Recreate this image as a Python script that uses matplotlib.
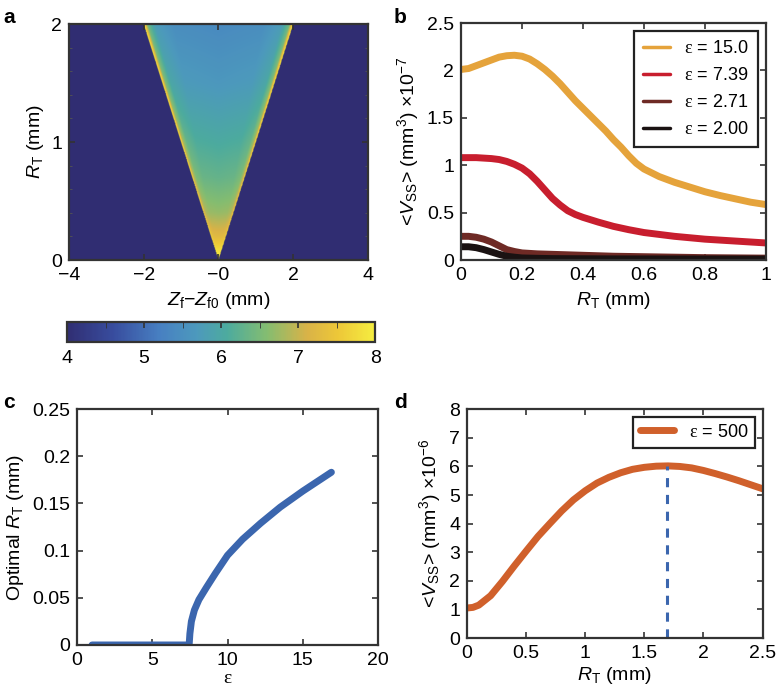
import numpy as np
import matplotlib
matplotlib.use("Agg")
import matplotlib.pyplot as plt
from matplotlib.colors import LinearSegmentedColormap

plt.rcParams['font.family'] = ['Liberation Sans', 'DejaVu Sans']
plt.rcParams['mathtext.fontset'] = 'custom'
plt.rcParams['mathtext.rm'] = 'Liberation Sans'
plt.rcParams['mathtext.it'] = 'Liberation Sans:italic'
plt.rcParams['mathtext.sf'] = 'Liberation Serif'
plt.rcParams['font.size'] = 14
plt.rcParams['axes.edgecolor'] = '#333333'
plt.rcParams['axes.linewidth'] = 1.6
plt.rcParams['xtick.direction'] = 'in'
plt.rcParams['ytick.direction'] = 'in'
plt.rcParams['xtick.top'] = True
plt.rcParams['ytick.right'] = True
plt.rcParams['xtick.major.size'] = 4
plt.rcParams['ytick.major.size'] = 4
plt.rcParams['xtick.major.width'] = 1.2
plt.rcParams['ytick.major.width'] = 1.2
plt.rcParams['lines.solid_joinstyle'] = 'round'
plt.rcParams['lines.solid_capstyle'] = 'round'

# ---- panel a: cone map ----
cone_rt = [0.0, 0.08, 0.2, 0.4, 0.7, 1.0, 1.5, 2.0]
cone_center = [8.0, 7.8, 7.25, 6.7, 6.3, 6.05, 5.65, 5.4]
edge_u = [0.0, 0.6, 0.85, 0.95, 1.0]
edge_w = [0.0, 0.03, 0.14, 0.4, 1.0]
outside_val = 4.0

# ---- panel b ----
rt_15 = [0, 0.025, 0.05, 0.075, 0.1, 0.125, 0.15, 0.175, 0.2, 0.225, 0.25, 0.275, 0.3, 0.325, 0.35,
         0.375, 0.4, 0.425, 0.45, 0.475, 0.5, 0.525, 0.55, 0.575, 0.6, 0.65, 0.7, 0.75, 0.8, 0.85, 0.9, 0.95, 1.0]
v_eps15 = [2.01, 2.02, 2.05, 2.08, 2.11, 2.14, 2.155, 2.16, 2.15, 2.12, 2.07, 2.01, 1.94, 1.86, 1.77,
           1.68, 1.6, 1.52, 1.44, 1.36, 1.27, 1.19, 1.1, 1.02, 0.96, 0.88, 0.82, 0.77, 0.72, 0.68, 0.645, 0.61, 0.585]
rt_739 = [0, 0.05, 0.1, 0.125, 0.15, 0.175, 0.2, 0.225, 0.25, 0.275, 0.3, 0.325, 0.35, 0.375, 0.4,
          0.45, 0.5, 0.55, 0.6, 0.7, 0.8, 0.9, 1.0]
v_eps739 = [1.08, 1.08, 1.07, 1.06, 1.04, 1.01, 0.97, 0.91, 0.83, 0.74, 0.65, 0.58, 0.52, 0.48, 0.45,
            0.4, 0.355, 0.32, 0.29, 0.25, 0.22, 0.2, 0.18]
rt_271 = [0, 0.025, 0.05, 0.075, 0.1, 0.125, 0.15, 0.175, 0.2, 0.25, 0.3, 0.4, 0.5, 0.6, 0.8, 1.0]
v_eps271 = [0.25, 0.25, 0.24, 0.22, 0.19, 0.15, 0.11, 0.09, 0.075, 0.065, 0.06, 0.05, 0.04, 0.035, 0.025, 0.02]
rt_200 = [0, 0.025, 0.05, 0.075, 0.1, 0.125, 0.15, 0.175, 0.2, 0.25, 0.3, 0.5, 1.0]
v_eps200 = [0.14, 0.14, 0.13, 0.11, 0.085, 0.06, 0.04, 0.03, 0.022, 0.018, 0.015, 0.012, 0.01]
labels_b = ['15.0', '7.39', '2.71', '2.00']
colors_b = ['#E5A33B', '#C81E2E', '#6E2A25', '#1A1212']

# ---- panel c ----
eps_c = [1, 3, 5, 7, 7.45, 7.5, 7.6, 7.8, 8.1, 8.6, 9.2, 10.0, 11.0, 12.2, 13.5, 15.0, 16.9]
opt_rt = [0, 0, 0, 0, 0, 0.012, 0.025, 0.037, 0.048, 0.061, 0.076, 0.095, 0.112, 0.129, 0.146, 0.163, 0.183]

# ---- panel d ----
rt_d = [0, 0.05, 0.1, 0.2, 0.3, 0.4, 0.5, 0.6, 0.7, 0.8, 0.9, 1.0, 1.1, 1.2, 1.3, 1.4, 1.5, 1.6, 1.7,
        1.8, 1.9, 2.0, 2.1, 2.2, 2.3, 2.4, 2.5]
v_d = [1.05, 1.07, 1.15, 1.48, 1.98, 2.52, 3.04, 3.55, 4.0, 4.44, 4.83, 5.15, 5.42, 5.62, 5.78, 5.9,
       5.97, 6.01, 6.02, 6.0, 5.95, 5.86, 5.75, 5.63, 5.5, 5.36, 5.22]
peak_rt = 1.69

parula_like = LinearSegmentedColormap.from_list('parula_like', [
    (0.00, (0.19, 0.18, 0.45)),
    (0.15, (0.22, 0.30, 0.62)),
    (0.30, (0.28, 0.50, 0.76)),
    (0.42, (0.30, 0.60, 0.74)),
    (0.52, (0.30, 0.67, 0.62)),
    (0.65, (0.52, 0.74, 0.44)),
    (0.78, (0.85, 0.70, 0.28)),
    (0.88, (0.93, 0.78, 0.22)),
    (1.00, (0.96, 0.93, 0.25)),
])

fig = plt.figure(figsize=(7.8, 6.91), dpi=100)

# panel a
ax_a = fig.add_axes([0.0885, 0.6237, 0.383, 0.3415])
xg = np.linspace(-4, 4, 801)
rg = np.linspace(0, 2, 401)
X, R = np.meshgrid(xg, rg)
center = np.interp(R, cone_rt, cone_center)
u = np.abs(X) / np.maximum(R, 1e-9)
w = np.interp(np.minimum(u, 1.0), edge_u, edge_w)
field = np.where(u <= 1.0, center + (8.0 - center) * w, outside_val)
im = ax_a.imshow(field, extent=[-4, 4, 0, 2], origin='lower', aspect='auto',
                 cmap=parula_like, vmin=4, vmax=8, interpolation='bilinear')
ax_a.set_xticks([-4, -2, 0, 2, 4])
ax_a.set_xticklabels(['\u22124', '\u22122', '\u22120', '2', '4'])
ax_a.set_yticks([0, 1, 2])
ax_a.set_yticks(np.arange(0, 2.01, 0.2), minor=True)
ax_a.tick_params(which='minor', length=2.5, color='#555555')
ax_a.set_xlabel('$Z_{\\rm f}$\u2212$Z_{\\rm f0}$ (mm)')
ax_a.set_ylabel(r'$R_{\rm T}$ (mm)')

cax = fig.add_axes([0.0859, 0.505, 0.395, 0.0289])
cb = fig.colorbar(im, cax=cax, orientation='horizontal')
cb.set_ticks([4, 5, 6, 7, 8])
cb.ax.set_xticks(np.arange(4, 8.01, 0.5), minor=True)
cb.ax.tick_params(which='both', direction='in', top=True, bottom=False, labelbottom=True,
                  length=4, color='#333333', labelsize=14, pad=6)
cb.outline.set_linewidth(1.6)
cb.outline.set_edgecolor('#333333')

# panel b
ax_b = fig.add_axes([0.591, 0.6237, 0.3910, 0.343])
for xs, vals, lab, col in zip([rt_15, rt_739, rt_271, rt_200], [v_eps15, v_eps739, v_eps271, v_eps200],
                              labels_b, colors_b):
    ax_b.plot(xs, vals, color=col, lw=5, label=r'$\mathsf{\varepsilon}$ = ' + lab)
ax_b.set_xlim(0, 1)
ax_b.set_ylim(0, 2.5)
ax_b.set_xticks([0, 0.2, 0.4, 0.6, 0.8, 1])
ax_b.set_xticklabels(['0', '0.2', '0.4', '0.6', '0.8', '1'])
ax_b.set_yticks([0, 0.5, 1, 1.5, 2, 2.5])
ax_b.set_yticklabels(['0', '0.5', '1', '1.5', '2', '2.5'])
ax_b.set_xlabel(r'$R_{\rm T}$ (mm)')
ax_b.set_ylabel(r'<$V_{\rm SS}$> (mm$^3$) $\times$10$^{-7}$')
leg = ax_b.legend(loc='upper right', fontsize=13, fancybox=False, framealpha=1,
                  edgecolor='#222222', handlelength=1.5, borderaxespad=0.45, labelspacing=0.55,
                  borderpad=0.5)
leg.get_frame().set_linewidth(1.6)
for ln in leg.get_lines():
    ln.set_linewidth(2.5)

# panel c
ax_c = fig.add_axes([0.0987, 0.0666, 0.386, 0.3415])
ax_c.plot(eps_c, opt_rt, color='#3B66AE', lw=5)
ax_c.set_xlim(0, 20)
ax_c.set_ylim(0, 0.25)
ax_c.set_xticks([0, 5, 10, 15, 20])
ax_c.set_yticks([0, 0.05, 0.1, 0.15, 0.2, 0.25])
ax_c.set_yticklabels(['0', '0.05', '0.1', '0.15', '0.2', '0.25'])
ax_c.set_xlabel(r'$\mathsf{\varepsilon}$', labelpad=1)
ax_c.set_ylabel(r'Optimal $R_{\rm T}$ (mm)')

# panel d
ax_d = fig.add_axes([0.5987, 0.0767, 0.379, 0.331])
ax_d.plot(rt_d, v_d, color='#D0602B', lw=5, label=r'$\mathsf{\varepsilon}$ = 500')
peak_v = np.interp(peak_rt, rt_d, v_d)
ax_d.plot([peak_rt, peak_rt], [0, peak_v], color='#3B66AE', lw=2.2, ls=(0, (3, 2.5)))
ax_d.set_xlim(0, 2.5)
ax_d.set_ylim(0, 8)
ax_d.set_xticks([0, 0.5, 1, 1.5, 2, 2.5])
ax_d.set_xticklabels(['0', '0.5', '1', '1.5', '2', '2.5'])
ax_d.set_yticks(range(0, 9))
ax_d.set_xlabel(r'$R_{\rm T}$ (mm)', labelpad=2)
ax_d.set_ylabel(r'<$V_{\rm SS}$> (mm$^3$) $\times$10$^{-6}$')
leg_d = ax_d.legend(loc='upper right', fontsize=13, fancybox=False, framealpha=1,
                    edgecolor='#222222', handlelength=1.9, borderaxespad=0.4)
leg_d.get_frame().set_linewidth(1.6)

for ax in [ax_a, ax_b, ax_c, ax_d]:
    ax.tick_params(which='major', color='#333333', labelsize=14, pad=5)

for lbl, x, y in [('a', 0.004, 0.975), ('b', 0.505, 0.975), ('c', 0.004, 0.418), ('d', 0.505, 0.418)]:
    fig.text(x, y, lbl, fontsize=15, fontweight='bold', va='center')

fig.savefig('out.png', dpi=100)
